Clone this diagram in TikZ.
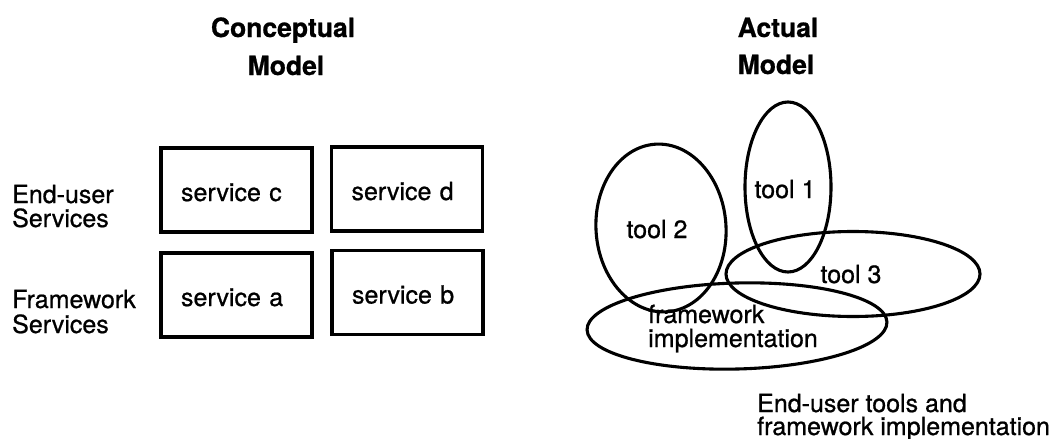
\documentclass[tikz,border=0pt]{standalone}
\usepackage{fontspec}
\setmainfont{TeX Gyre Heros}[FakeBold=0.8]
\newfontfamily\headfont{TeX Gyre Heros Bold}[FakeBold=0.8]
\usetikzlibrary{shapes.geometric}

\tikzset{
  txt/.style={inner sep=0pt, font=\fontsize{25}{25}\selectfont},
  title/.style={inner sep=0pt, font=\fontsize{26.5}{26.5}\headfont},
  svcbox/.style={draw, line width=3.3pt, rectangle, inner xsep=20pt, inner ysep=0pt,
    text width=111pt, align=left, minimum height=84pt, text height=22pt, text depth=0pt,
    font=\fontsize{25}{25}\selectfont},
  blob/.style={draw, line width=3.1pt, ellipse, inner sep=0pt}
}

\begin{document}
\begin{tikzpicture}[x=1pt, y=-1pt]
\useasboundingbox (0,0) rectangle (1058,439);

% left half: the layered conceptual view
\node[title, anchor=base] (cTitle1) at (283,37) {Conceptual};
\node[title, anchor=base] (cTitle2) at (286,75) {Model};

\node[txt, anchor=base west] (eu1) at (12,203) {End-user};
\node[txt, anchor=base west] (eu2) at (12,227) {Services};
\node[txt, anchor=base west] (fw1) at (12,308) {Framework};
\node[txt, anchor=base west] (fw2) at (12,333) {Services};

\node[svcbox] (svcC) at (236.5,190) {service c};
\node[svcbox] (svcD) at (407,189) {service d};
\node[svcbox] (svcA) at (236.5,295) {service a};
\node[svcbox] (svcB) at (407.5,292.5) {service b};

% right half: overlapping tools and framework
\node[title, anchor=base] (aTitle1) at (778,37) {Actual};
\node[title, anchor=base] (aTitle2) at (776,74) {Model};

\node[blob, minimum width=86pt, minimum height=170pt] (tool1) at (788,187) {};
\node[blob, minimum width=130pt, minimum height=168pt, rotate=4] (tool2) at (661,228) {};
\node[blob, minimum width=254pt, minimum height=85pt] (tool3) at (853,274) {};
\node[blob, minimum width=300pt, minimum height=86pt, rotate=1.5] (frame) at (737,326) {};

\node[txt, anchor=base] (t1) at (785,198) {tool 1};
\node[txt, anchor=base] (t2) at (657,238) {tool 2};
\node[txt, anchor=base] (t3) at (851,283) {tool 3};
\node[txt, anchor=base west] (fr1) at (648,323) {framework};
\node[txt, anchor=base west] (fr2) at (648,347) {implementation};

\node[txt, anchor=base west] (cap1) at (757,412) {End-user tools and};
\node[txt, anchor=base west] (cap2) at (757,435) {framework implementation};
\end{tikzpicture}
\end{document}
